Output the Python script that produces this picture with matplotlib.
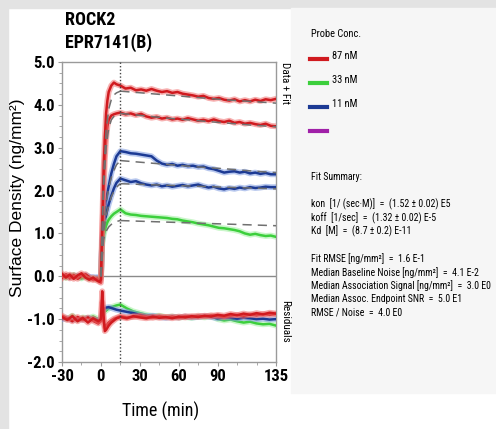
import matplotlib
matplotlib.use('Agg')
import matplotlib.pyplot as plt
import matplotlib.patheffects as pe
import matplotlib.font_manager as fm
from matplotlib.patches import Rectangle
from matplotlib.ticker import MultipleLocator, FixedLocator

_installed = {f.name for f in fm.fontManager.ttflist}
_pref = ['Roboto Condensed', 'Archivo Narrow', 'Fira Sans Condensed',
         'Barlow Semi Condensed', 'Liberation Sans']
NARROW_NAME = next((n for n in _pref if n in _installed), 'DejaVu Sans')
NARROW = [NARROW_NAME, 'DejaVu Sans']
REG = ['Liberation Sans', 'DejaVu Sans']

# ---------------- data ----------------
t_base = [-30, -27, -24, -21, -18, -15, -12, -9, -6, -3, -1, 0]
t_rise = [1, 2, 3, 4, 5, 6, 8, 10, 12]
t_diss = [15, 19, 23, 27, 31, 35, 39, 43, 47, 51, 55, 59, 63, 67, 71, 75, 79, 83,
          87, 91, 95, 99, 103, 107, 111, 115, 119, 123, 127, 131, 135]

redA_base = [0.06, -0.03, 0.04, -0.06, 0.02, 0.07, -0.03, -0.08, -0.03, -0.10, -0.13, -0.08]
redA_rise = [1.2, 2.4, 3.2, 3.8, 4.1, 4.3, 4.45, 4.52, 4.48]
redA_diss = [4.45, 4.38, 4.40, 4.34, 4.36, 4.33, 4.37, 4.33, 4.30, 4.32, 4.28, 4.30, 4.26,
             4.24, 4.22, 4.19, 4.21, 4.16, 4.14, 4.16, 4.12, 4.10, 4.13, 4.08, 4.11, 4.08,
             4.12, 4.09, 4.13, 4.11, 4.14]

redB_base = [-0.04, 0.05, -0.05, 0.03, -0.06, 0.01, 0.05, -0.02, -0.09, -0.05, -0.12, -0.15]
redB_rise = [0.9, 1.9, 2.7, 3.2, 3.5, 3.65, 3.75, 3.78, 3.80]
redB_diss = [3.82, 3.78, 3.80, 3.76, 3.79, 3.73, 3.70, 3.72, 3.68, 3.70, 3.66, 3.68, 3.65,
             3.69, 3.66, 3.63, 3.65, 3.62, 3.66, 3.62, 3.60, 3.63, 3.58, 3.60, 3.56, 3.58,
             3.55, 3.53, 3.56, 3.51, 3.50]

blueA_base = [0.00, -0.02, 0.02, -0.01, 0.01, -0.03, 0.00, -0.04, -0.02, -0.05, -0.03, 0.00]
blueA_rise = [0.85, 1.2, 1.5, 1.75, 1.95, 2.1, 2.4, 2.62, 2.8]
blueA_diss = [2.92, 2.90, 2.87, 2.86, 2.84, 2.82, 2.80, 2.70, 2.63, 2.60, 2.62, 2.58, 2.60,
              2.57, 2.58, 2.55, 2.56, 2.52, 2.50, 2.46, 2.42, 2.44, 2.45, 2.42, 2.44, 2.40,
              2.42, 2.39, 2.41, 2.38, 2.38]

blueB_base = [-0.02, 0.01, -0.03, 0.02, 0.00, -0.02, 0.03, -0.01, -0.04, -0.02, -0.06, -0.03]
blueB_rise = [0.8, 1.05, 1.25, 1.42, 1.56, 1.68, 1.88, 2.05, 2.18]
blueB_diss = [2.28, 2.24, 2.20, 2.22, 2.17, 2.14, 2.12, 2.14, 2.10, 2.12, 2.09, 2.11, 2.13,
              2.10, 2.12, 2.14, 2.10, 2.07, 2.09, 2.05, 2.03, 2.06, 2.04, 2.07, 2.05, 2.08,
              2.06, 2.07, 2.09, 2.08, 2.08]

green_base = [0.02, -0.04, 0.01, 0.03, -0.02, -0.05, 0.00, -0.06, -0.04, -0.08, -0.05, -0.02]
green_rise = [0.75, 0.95, 1.08, 1.18, 1.26, 1.32, 1.40, 1.46, 1.50]
green_diss = [1.56, 1.47, 1.44, 1.43, 1.41, 1.40, 1.39, 1.38, 1.37, 1.36, 1.34, 1.33, 1.30,
              1.28, 1.26, 1.23, 1.21, 1.19, 1.16, 1.13, 1.12, 1.10, 1.08, 1.05, 1.00, 0.97,
              0.99, 0.96, 0.94, 0.95, 0.92]

# fits
t_fit_assoc = [0, 2, 4, 6, 8, 10, 12, 15]
t_fit_diss = [15, 35, 55, 75, 95, 115, 135]
fit_redA_assoc = [0, 2.3, 3.4, 3.9, 4.12, 4.23, 4.28, 4.32]
fit_redA_diss = [4.32, 4.27, 4.22, 4.17, 4.12, 4.08, 4.04]
fit_redB_assoc = [0, 2.0, 3.0, 3.45, 3.65, 3.73, 3.77, 3.80]
fit_redB_diss = [3.80, 3.74, 3.68, 3.63, 3.58, 3.53, 3.49]
fit_blueA_assoc = [0, 1.15, 1.7, 2.05, 2.3, 2.47, 2.6, 2.70]
fit_blueA_diss = [2.70, 2.65, 2.60, 2.55, 2.51, 2.46, 2.42]
fit_blueB_assoc = [0, 1.0, 1.4, 1.65, 1.85, 1.98, 2.08, 2.16]
fit_blueB_diss = [2.16, 2.14, 2.12, 2.10, 2.08, 2.06, 2.04]
fit_green_assoc = [0, 0.85, 1.05, 1.15, 1.21, 1.25, 1.28, 1.30]
fit_green_diss = [1.30, 1.28, 1.26, 1.24, 1.22, 1.20, 1.18]

# residuals (plotted offset at -1.0)
t_res = [-30, -26, -22, -18, -14, -10, -6, -2, 0, 1, 2, 3, 4, 6, 8, 10, 12,
         15, 20, 25, 30, 35, 40, 45, 50, 55, 60, 65, 70, 75, 80, 85, 90, 95, 100,
         105, 110, 115, 120, 125, 130, 135]
res_redA = [-0.95, -1.02, -0.93, -1.05, -0.97, -1.08, -0.98, -1.05, -1.0,
            -0.35, -0.9, -1.28, -1.25, -1.15, -1.08, -1.03, -0.98,
            -0.95, -0.98, -0.93, -0.96, -0.98, -0.94, -0.97, -0.95, -0.98, -0.94,
            -0.96, -0.93, -0.95, -0.92, -0.94, -0.90, -0.92, -0.88, -0.91, -0.87,
            -0.90, -0.86, -0.89, -0.85, -0.87]
res_redB = [-0.92, -0.98, -1.05, -0.95, -1.02, -0.96, -1.04, -1.10, -1.05,
            -0.6, -1.05, -1.18, -1.15, -1.08, -1.03, -0.99, -0.97,
            -0.93, -0.96, -0.95, -0.92, -0.95, -0.97, -0.93, -0.96, -0.94, -0.97,
            -0.93, -0.95, -0.92, -0.94, -0.91, -0.93, -0.95, -0.92, -0.90, -0.93,
            -0.89, -0.91, -0.88, -0.90, -0.88]
res_blue = [-1.0, -0.98, -1.02, -0.99, -1.01, -0.97, -1.0, -1.03, -1.0,
            -0.85, -0.78, -0.75, -0.73, -0.72, -0.74, -0.76, -0.78,
            -0.80, -0.83, -0.86, -0.90, -0.93, -0.92, -0.95, -0.97, -0.95, -0.96,
            -0.94, -0.96, -0.95, -0.93, -0.95, -0.98, -0.96, -0.97, -0.99, -0.97,
            -0.98, -1.00, -0.99, -1.01, -1.00]
res_green = [-0.95, -1.0, -0.92, -1.02, -0.96, -0.98, -0.94, -1.0, -0.98,
             -0.9, -0.85, -0.82, -0.8, -0.75, -0.72, -0.70, -0.68,
             -0.66, -0.75, -0.82, -0.86, -0.90, -0.93, -0.92, -0.95, -0.94, -0.96,
             -0.95, -0.97, -0.94, -0.96, -0.93, -1.00, -1.03, -1.01, -1.05, -1.08,
             -1.06, -1.10, -1.12, -1.11, -1.15]

y_ticks = [5.0, 4.0, 3.0, 2.0, 1.0, 0.0, -1.0, -2.0]
x_ticks = [-30, 0, 30, 60, 90, 135]
legend_labels = ['87 nM', '33 nM', '11 nM', '']
fit_lines = [
    'Fit Summary:',
    '',
    'kon  [1/ (sec·M)]  =  (1.52 ± 0.02) E5',
    'koff  [1/sec]  =  (1.32 ± 0.02) E-5',
    'Kd  [M]  =  (8.7 ± 0.2) E-11',
    '',
    'Fit RMSE [ng/mm²]  =  1.6 E-1',
    'Median Baseline Noise [ng/mm²]  =  4.1 E-2',
    'Median Association Signal [ng/mm²]  =  3.0 E0',
    'Median Assoc. Endpoint SNR  =  5.0 E1',
    'RMSE / Noise  =  4.0 E0',
]

RED = '#d01a1f'
RED_H = '#f07070'
BLUE = '#1c3a94'
BLUE_H = '#7f9be0'
GREEN = '#3ccf3c'
GREEN_H = '#9ff09f'
PURPLE = '#a020a8'

W, H = 496, 429
fig = plt.figure(figsize=(W / 100, H / 100), dpi=100)
fig.patch.set_facecolor('white')

# background panels
fig.add_artist(Rectangle((0, 1 - 8 / H), 1, 8 / H, transform=fig.transFigure,
                         color='#e3e3e3', zorder=0))
fig.add_artist(Rectangle((0, 0), 8 / W, 1, transform=fig.transFigure,
                         color='#e3e3e3', zorder=0))
fig.add_artist(Rectangle((291 / W, 1 - 393 / H), 1 - 291 / W, (393 - 8) / H,
                         transform=fig.transFigure, color='#f6f6f6', zorder=0))

ax = fig.add_axes([62 / W, 1 - 362 / H, 214 / W, 300 / H])
ax.set_xlim(-30, 135)
ax.set_ylim(-2.0, 5.0)


def trace(x, y, c, h, z=3):
    ax.plot(x, y, color=c, lw=1.8, zorder=z, solid_joinstyle='round',
            path_effects=[pe.Stroke(linewidth=4.2, foreground=h, alpha=0.55), pe.Normal()])


t_all = t_base + t_rise + t_diss
trace(t_all, blueA_base + blueA_rise + blueA_diss, BLUE, BLUE_H)
trace(t_all, blueB_base + blueB_rise + blueB_diss, BLUE, BLUE_H)
trace(t_all, green_base + green_rise + green_diss, GREEN, GREEN_H)
trace(t_all, redB_base + redB_rise + redB_diss, RED, RED_H, 4)
trace(t_all, redA_base + redA_rise + redA_diss, RED, RED_H, 4)

for fa, fd in [(fit_redA_assoc, fit_redA_diss), (fit_redB_assoc, fit_redB_diss),
               (fit_blueA_assoc, fit_blueA_diss), (fit_blueB_assoc, fit_blueB_diss),
               (fit_green_assoc, fit_green_diss)]:
    ax.plot(t_fit_assoc, fa, color='#707070', lw=1.1, dashes=(6, 4), zorder=5)
    ax.plot(t_fit_diss, fd, color='#707070', lw=1.1, dashes=(6, 4), zorder=5)

trace(t_res, res_green, GREEN, GREEN_H)
trace(t_res, res_blue, BLUE, BLUE_H)
trace(t_res, res_redB, RED, RED_H, 4)
trace(t_res, res_redA, RED, RED_H, 4)

ax.axhline(0, color='#8a8a8a', lw=1.0, zorder=2)
ax.axvline(15, color='#444444', lw=1.0, ls=(0, (1, 1.5)), zorder=6)

for s in ax.spines.values():
    s.set_color('#9a9a9a')
    s.set_linewidth(1.0)

ax.yaxis.set_major_locator(FixedLocator(y_ticks))
ax.yaxis.set_minor_locator(MultipleLocator(0.25))
ax.xaxis.set_major_locator(FixedLocator(x_ticks))
ax.xaxis.set_minor_locator(MultipleLocator(15))
ax.set_yticklabels([f'{v:.1f}' for v in y_ticks])
ax.set_xticklabels([str(v) for v in x_ticks])
ax.tick_params(axis='both', which='major', length=3, width=0.8, color='#9a9a9a',
               pad=2, labelsize=12)
ax.tick_params(axis='both', which='minor', length=2, width=0.6, color='#9a9a9a')
for lab in ax.get_xticklabels() + ax.get_yticklabels():
    lab.set_family(NARROW)
    lab.set_fontweight('bold')

fig.text(18 / W, 1 - 198 / H, 'Surface Density (ng/mm²)', family=REG, fontsize=12.5,
         rotation=90, ha='center', va='center')
fig.text(161 / W, 1 - 411 / H, 'Time (min)', family=NARROW, fontsize=13,
         ha='center', va='center')

fig.text(65 / W, 1 - 20 / H, 'ROCK2', family=NARROW, fontweight='bold', fontsize=13,
         va='center', ha='left')
fig.text(65 / W, 1 - 43 / H, 'EPR7141(B)', family=NARROW, fontweight='bold', fontsize=13,
         va='center', ha='left')

fig.text(285 / W, 1 - 62 / H, 'Data + Fit', family=NARROW, fontsize=8, rotation=270,
         va='top', ha='center')
fig.text(285 / W, 1 - 300 / H, 'Residuals', family=NARROW, fontsize=8, rotation=270,
         va='top', ha='center')

# legend panel
fig.text(311 / W, 1 - 34 / H, 'Probe Conc.', family=NARROW, fontsize=7.5, va='center')
for i, (lab, col) in enumerate(zip(legend_labels, [RED, GREEN, BLUE, PURPLE])):
    yy = 1 - (59 + 24 * i) / H
    fig.add_artist(plt.Line2D([310 / W, 327 / W], [yy, yy], transform=fig.transFigure,
                              color=col, lw=3))
    if lab:
        fig.text(332 / W, yy + 3 / H, lab, family=NARROW, fontsize=7.5, va='center')

for i, line in enumerate(fit_lines):
    if line:
        fig.text(311 / W, 1 - (177 + 13.6 * i) / H, line, family=NARROW, fontsize=7.1,
                 va='center')

fig.savefig('out.png', dpi=100)
